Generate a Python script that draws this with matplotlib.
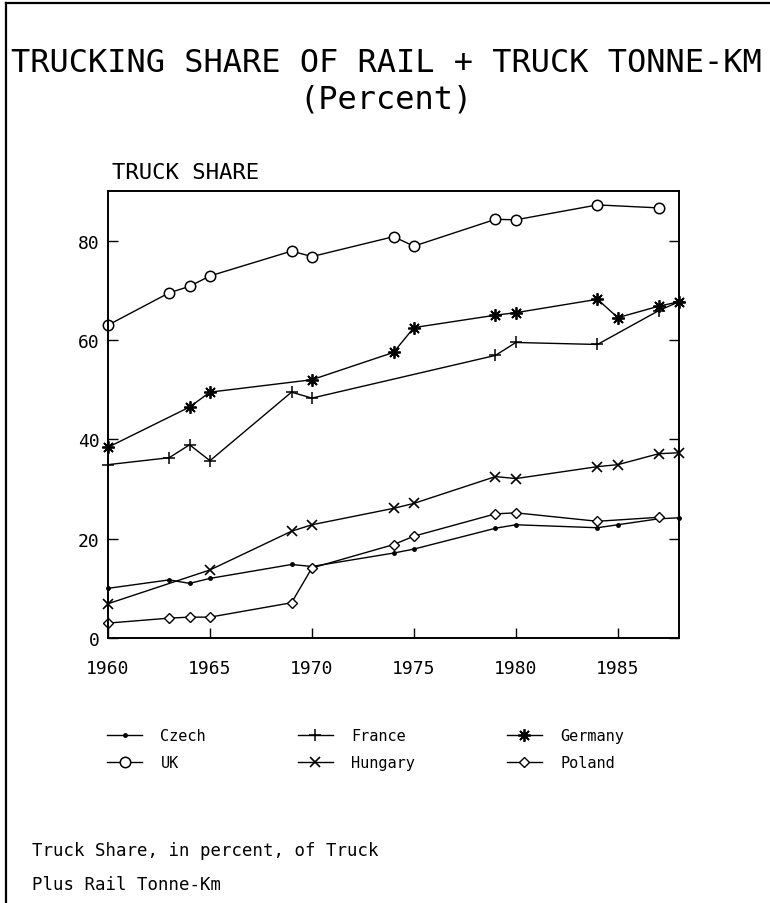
import matplotlib
matplotlib.use("Agg")
import matplotlib.pyplot as plt
from matplotlib.lines import Line2D

plt.rcParams['font.family'] = ['DejaVu Sans Mono', 'Liberation Mono']

# data (truck share, percent)
czech_years = [1960, 1963, 1964, 1965, 1969, 1970, 1974, 1975, 1979, 1980, 1984, 1985, 1987, 1988]
czech = [10.0, 11.7, 11.0, 12.0, 14.8, 14.4, 17.1, 17.9, 22.1, 22.8, 22.2, 22.8, 24.0, 24.2]

france_years = [1960, 1963, 1964, 1965, 1969, 1970, 1979, 1980, 1984, 1987, 1988]
france = [34.9, 36.3, 38.9, 35.7, 49.5, 48.3, 56.9, 59.5, 59.1, 65.9, 67.7]

germany_years = [1960, 1964, 1965, 1970, 1974, 1975, 1979, 1980, 1984, 1985, 1987, 1988]
germany = [38.4, 46.5, 49.5, 52.0, 57.5, 62.5, 65.0, 65.5, 68.2, 64.5, 66.8, 67.7]

uk_years = [1960, 1963, 1964, 1965, 1969, 1970, 1974, 1975, 1979, 1980, 1984, 1987]
uk = [63.0, 69.5, 70.8, 72.9, 77.9, 76.8, 80.8, 78.9, 84.3, 84.2, 87.2, 86.6]

hungary_years = [1960, 1965, 1969, 1970, 1974, 1975, 1979, 1980, 1984, 1985, 1987, 1988]
hungary = [6.9, 13.7, 21.5, 22.8, 26.1, 27.1, 32.5, 32.1, 34.5, 34.9, 37.1, 37.3]

poland_years = [1960, 1963, 1964, 1965, 1969, 1970, 1974, 1975, 1979, 1980, 1984, 1987]
poland = [3.0, 4.0, 4.2, 4.2, 7.1, 14.1, 18.8, 20.5, 25.0, 25.2, 23.5, 24.3]

xticks = [1960, 1965, 1970, 1975, 1980, 1985]
yticks = [0, 20, 40, 60, 80]

W, H = 770, 904
fig = plt.figure(figsize=(W / 100, H / 100), dpi=100)

# outer frame (only top and left edges visible)
fig.add_artist(Line2D([6 / W, 6 / W], [0, 1 - 4 / H], color='black', lw=1.6))
fig.add_artist(Line2D([6 / W, 1], [1 - 4 / H, 1 - 4 / H], color='black', lw=1.6))

ax = fig.add_axes([108 / W, 1 - 639 / H, (679 - 108) / W, (639 - 192) / H])

lw = 1.0
kw = dict(color='black', lw=lw, clip_on=False)
h_czech, = ax.plot(czech_years, czech, marker='o', ms=2.5, label='Czech', **kw)
h_france, = ax.plot(france_years, france, marker='+', ms=9, mew=1.1, label='France', **kw)
h_germany, = ax.plot(germany_years, germany, marker=(8, 2, 0), ms=9, mew=1.3, label='Germany', **kw)
h_uk, = ax.plot(uk_years, uk, marker='o', ms=7.5, mfc='white', mew=1.1, label='UK', **kw)
h_hungary, = ax.plot(hungary_years, hungary, marker='x', ms=7.5, mew=1.2, label='Hungary', **kw)
h_poland, = ax.plot(poland_years, poland, marker='D', ms=5, mfc='white', mew=1.0, label='Poland', **kw)

ax.set_xlim(1960, 1988)
ax.set_ylim(0, 90)
ax.set_xticks(xticks)
ax.set_yticks(yticks)
ax.tick_params(axis='both', direction='in', length=7, width=1.0, labelsize=13)
ax.tick_params(axis='y', right=True, pad=6)
ax.tick_params(axis='x', pad=15)
for s in ax.spines.values():
    s.set_linewidth(1.4)

fig.text(112 / W, 1 - 173 / H, 'TRUCK SHARE', fontsize=16, ha='left', va='center')

fig.text(386 / W, 1 - 63 / H, 'TRUCKING SHARE OF RAIL + TRUCK TONNE-KM',
         fontsize=23, ha='center', va='center')
fig.text(386 / W, 1 - 100 / H, '(Percent)', fontsize=23, ha='center', va='center')

handles = [h_czech, h_uk, h_france, h_hungary, h_germany, h_poland]
fig.legend(handles, [h.get_label() for h in handles], ncol=3, loc='upper left',
           bbox_to_anchor=(107 / W, 1 - 729 / H), bbox_transform=fig.transFigure,
           frameon=False, borderpad=0, borderaxespad=0, handlelength=2.3,
           handletextpad=1.2, columnspacing=6.0, labelspacing=0.8,
           prop={'size': 11})

fig.text(32 / W, 1 - 851 / H, 'Truck Share, in percent, of Truck', fontsize=12.5,
         ha='left', va='center')
fig.text(32 / W, 1 - 885 / H, 'Plus Rail Tonne-Km', fontsize=12.5,
         ha='left', va='center')

fig.savefig('out.png', dpi=100)
